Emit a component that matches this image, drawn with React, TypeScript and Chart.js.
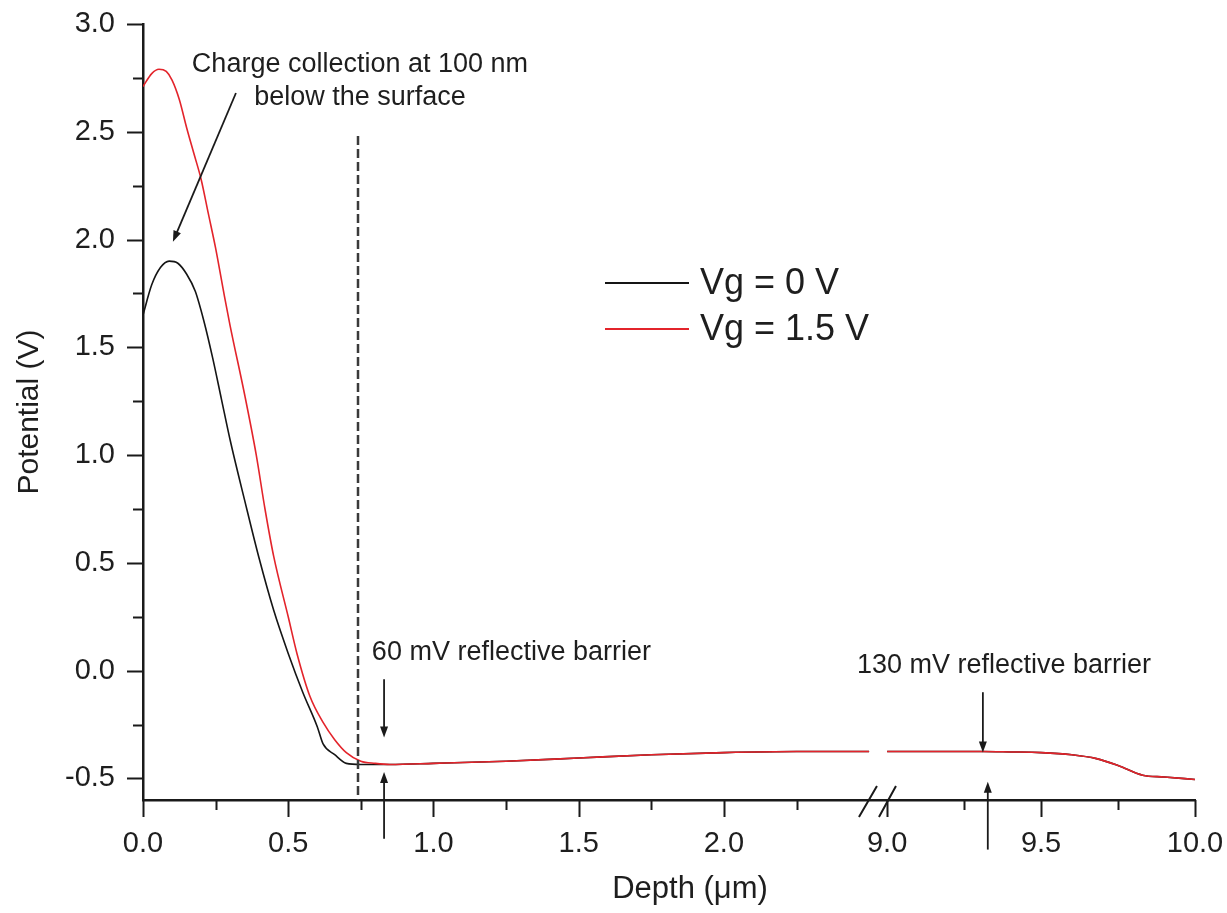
import React, { useEffect, useRef } from "react";
import { Chart, registerables } from "chart.js";

Chart.register(...registerables);

// ---------- data ----------
const seriesLabels = ["Vg = 0 V", "Vg = 1.5 V"];
const xTitle = "Depth (\u03bcm)";
const yTitle = "Potential (V)";

// Vg = 0 V, first axis segment (µm, V)
const depthVg0 = [0, 0.03, 0.06, 0.09, 0.12, 0.15, 0.18, 0.21, 0.24, 0.27, 0.3, 0.35, 0.4, 0.45, 0.5, 0.55, 0.6, 0.62, 0.66, 0.7, 0.75, 0.8, 0.85, 1.0, 1.25, 1.5, 1.75, 2.0, 2.25, 2.5];
const potentialVg0 = [1.65, 1.79, 1.87, 1.9, 1.89, 1.84, 1.76, 1.62, 1.45, 1.26, 1.07, 0.79, 0.52, 0.28, 0.08, -0.1, -0.26, -0.34, -0.39, -0.43, -0.435, -0.435, -0.435, -0.43, -0.42, -0.405, -0.39, -0.38, -0.375, -0.375];

// Vg = 1.5 V, first axis segment
const depthVg15 = [0, 0.03, 0.055, 0.08, 0.1, 0.125, 0.15, 0.175, 0.2, 0.225, 0.25, 0.28, 0.3, 0.35, 0.39, 0.42, 0.45, 0.5, 0.53, 0.575, 0.62, 0.66, 0.7, 0.75, 0.8, 0.85, 1.0, 1.25, 1.5, 1.75, 2.0, 2.25, 2.5];
const potentialVg15 = [2.71, 2.77, 2.79, 2.78, 2.74, 2.65, 2.52, 2.4, 2.28, 2.12, 1.96, 1.74, 1.6, 1.28, 1.0, 0.75, 0.53, 0.25, 0.08, -0.12, -0.24, -0.32, -0.38, -0.42, -0.43, -0.435, -0.43, -0.42, -0.405, -0.39, -0.38, -0.375, -0.375];

// second axis segment (both curves coincide)
const tailDepth = [9.0, 9.1, 9.2, 9.31, 9.4, 9.5, 9.6, 9.68, 9.75, 9.83, 9.9, 10.0];
const tailPotential = [-0.375, -0.375, -0.375, -0.375, -0.377, -0.38, -0.39, -0.408, -0.44, -0.485, -0.493, -0.505];

const xMajorTicks = [0, 0.5, 1.0, 1.5, 2.0, 9.0, 9.5, 10.0];
const xMinorTicks = [0.25, 0.75, 1.25, 1.75, 2.25, 9.25, 9.75];
const yMajorTicks = [-0.5, 0, 0.5, 1.0, 1.5, 2.0, 2.5, 3.0];
const yMinorTicks = [-0.25, 0.25, 0.75, 1.25, 1.75, 2.25, 2.75];

const dashedDepth = 0.74;

// ---------- broken axis mapping ----------
const SEG1_END = 2.527;
const SEG2_START = 8.967;
const SEG2_STRETCH = 1.06;
const AXIS_MAX = SEG1_END + (10.0 - SEG2_START) * SEG2_STRETCH;
const toAxis = (d: number) => (d <= SEG1_END ? d : SEG1_END + (d - SEG2_START) * SEG2_STRETCH);

function buildPoints(depth: number[], pot: number[]) {
  const pts: { x: number; y: number | null }[] = depth.map((d, i) => ({ x: toAxis(d), y: pot[i] }));
  pts.push({ x: SEG1_END, y: null });
  tailDepth.forEach((d, i) => pts.push({ x: toAxis(d), y: tailPotential[i] }));
  return pts;
}

const FONT = '"Liberation Sans", Arial, Helvetica, sans-serif';
const AXIS_COLOR = "#1a1a1a";
const TEXT_COLOR = "#1e1e1e";
const BLACK = "#151515";
const RED = "#e3242b";

const arrows = [
  { from: [0.32, 2.68], to: [0.103, 1.99] },
  { from: [0.83, -0.04], to: [0.83, -0.31] },
  { from: [0.83, -0.78], to: [0.83, -0.47] },
  { from: [9.311, -0.1], to: [9.311, -0.38] },
  { from: [9.327, -0.83], to: [9.327, -0.515] },
];

const notes = [
  { text: "Charge collection at 100 nm", at: [0.747, 2.814], align: "center" },
  { text: "below the surface", at: [0.747, 2.661], align: "center" },
  { text: "60 mV reflective barrier", at: [0.788, 0.083], align: "left" },
  { text: "130 mV reflective barrier", at: [2.458, 0.023], align: "left" },
];

const decorPlugin = {
  id: "decor",
  afterDraw(chart: any) {
    const ctx = chart.ctx as CanvasRenderingContext2D;
    const xs = chart.scales.x;
    const ys = chart.scales.y;
    const { left, bottom } = chart.chartArea;
    const px = (d: number) => xs.getPixelForValue(toAxis(d));
    const py = (v: number) => ys.getPixelForValue(v);
    ctx.save();

    // tick marks (outward)
    ctx.strokeStyle = AXIS_COLOR;
    ctx.lineWidth = 2;
    ctx.beginPath();
    xMajorTicks.forEach((v) => {
      const x = Math.round(px(v)) + 0.5;
      ctx.moveTo(x, bottom);
      ctx.lineTo(x, bottom + 17);
    });
    xMinorTicks.forEach((v) => {
      const x = Math.round(px(v)) + 0.5;
      ctx.moveTo(x, bottom);
      ctx.lineTo(x, bottom + 10);
    });
    yMajorTicks.forEach((v) => {
      const y = Math.round(py(v)) + 0.5;
      ctx.moveTo(left - 16, y);
      ctx.lineTo(left, y);
    });
    yMinorTicks.forEach((v) => {
      const y = Math.round(py(v)) + 0.5;
      ctx.moveTo(left - 10, y);
      ctx.lineTo(left, y);
    });
    ctx.stroke();

    // axis break marks
    const bx = xs.getPixelForValue(SEG1_END);
    ctx.beginPath();
    ctx.lineWidth = 2;
    ctx.moveTo(bx - 18, bottom + 17);
    ctx.lineTo(bx, bottom - 14);
    ctx.moveTo(bx + 2, bottom + 17);
    ctx.lineTo(bx + 19, bottom - 14);
    ctx.stroke();

    // dashed vertical line
    ctx.beginPath();
    ctx.strokeStyle = "#3a3a3a";
    ctx.lineWidth = 2.5;
    ctx.setLineDash([9, 4]);
    const dx = Math.round(px(dashedDepth));
    ctx.moveTo(dx, py(2.48));
    ctx.lineTo(dx, bottom);
    ctx.stroke();
    ctx.setLineDash([]);

    // arrows
    ctx.strokeStyle = AXIS_COLOR;
    ctx.fillStyle = AXIS_COLOR;
    arrows.forEach((a) => {
      const x1 = px(a.from[0]);
      const y1 = py(a.from[1]);
      const x2 = px(a.to[0]);
      const y2 = py(a.to[1]);
      const ang = Math.atan2(y2 - y1, x2 - x1);
      const hl = 11;
      const hw = 4;
      ctx.beginPath();
      ctx.lineWidth = 1.8;
      ctx.moveTo(x1, y1);
      ctx.lineTo(x2 - Math.cos(ang) * hl * 0.8, y2 - Math.sin(ang) * hl * 0.8);
      ctx.stroke();
      ctx.beginPath();
      ctx.moveTo(x2, y2);
      ctx.lineTo(x2 - Math.cos(ang) * hl - Math.sin(ang) * hw, y2 - Math.sin(ang) * hl + Math.cos(ang) * hw);
      ctx.lineTo(x2 - Math.cos(ang) * hl + Math.sin(ang) * hw, y2 - Math.sin(ang) * hl - Math.cos(ang) * hw);
      ctx.closePath();
      ctx.fill();
    });

    // annotation text
    ctx.fillStyle = TEXT_COLOR;
    ctx.font = `27px ${FONT}`;
    ctx.textBaseline = "middle";
    notes.forEach((n) => {
      ctx.textAlign = n.align as CanvasTextAlign;
      ctx.fillText(n.text, px(n.at[0]), py(n.at[1]));
    });

    // x axis title
    ctx.font = `31px ${FONT}`;
    ctx.textAlign = "center";
    ctx.fillText(xTitle, 690, 889);

    // legend
    const legendItems = [
      { label: seriesLabels[0], color: BLACK, y: 283 },
      { label: seriesLabels[1], color: RED, y: 329 },
    ];
    ctx.font = `36px ${FONT}`;
    ctx.textAlign = "left";
    legendItems.forEach((it) => {
      ctx.beginPath();
      ctx.strokeStyle = it.color;
      ctx.lineWidth = 1.8;
      ctx.moveTo(605, it.y);
      ctx.lineTo(689, it.y);
      ctx.stroke();
      ctx.fillStyle = TEXT_COLOR;
      ctx.fillText(it.label, 700, it.y + 1);
    });

    ctx.restore();
  },
};

export default function App() {
  const canvasRef = useRef<HTMLCanvasElement | null>(null);

  useEffect(() => {
    const canvas = canvasRef.current;
    if (!canvas) return;
    const chart = new Chart(canvas, {
      type: "line",
      data: {
        datasets: [
          {
            label: seriesLabels[0],
            data: buildPoints(depthVg0, potentialVg0),
            borderColor: BLACK,
            borderWidth: 1.6,
            pointRadius: 0,
            cubicInterpolationMode: "monotone",
            spanGaps: false,
            order: 2,
          },
          {
            label: seriesLabels[1],
            data: buildPoints(depthVg15, potentialVg15),
            borderColor: RED,
            borderWidth: 1.6,
            pointRadius: 0,
            cubicInterpolationMode: "monotone",
            spanGaps: false,
            order: 1,
          },
        ],
      } as any,
      options: {
        animation: false,
        responsive: true,
        maintainAspectRatio: false,
        parsing: false as any,
        layout: { padding: { left: 0, top: 24, right: 32, bottom: 0 } },
        plugins: { legend: { display: false }, tooltip: { enabled: false } },
        scales: {
          x: {
            type: "linear",
            min: 0,
            max: AXIS_MAX,
            grid: { display: false, drawTicks: false },
            border: { display: true, color: AXIS_COLOR, width: 2.5 },
            afterBuildTicks: (scale: any) => {
              scale.ticks = xMajorTicks.map((v) => ({ value: toAxis(v) }));
            },
            afterFit: (scale: any) => {
              scale.height = 113;
              scale.paddingLeft = 0;
              scale.paddingRight = 0;
            },
            ticks: {
              autoSkip: false,
              maxRotation: 0,
              padding: 27,
              color: TEXT_COLOR,
              font: { family: FONT, size: 29 },
              callback: (_v: any, i: number) => xMajorTicks[i].toFixed(1),
            },
            title: { display: false },
          },
          y: {
            type: "linear",
            min: -0.6,
            max: 3.0,
            grid: { display: false, drawTicks: false },
            border: { display: true, color: AXIS_COLOR, width: 2.5 },
            afterBuildTicks: (scale: any) => {
              scale.ticks = yMajorTicks.map((v) => ({ value: v }));
            },
            afterFit: (scale: any) => {
              scale.width = 143;
              scale.paddingTop = 0;
              scale.paddingBottom = 0;
            },
            ticks: {
              padding: 28,
              color: TEXT_COLOR,
              font: { family: FONT, size: 29 },
              callback: (v: any) => Number(v).toFixed(1),
            },
            title: {
              display: true,
              text: yTitle,
              color: TEXT_COLOR,
              font: { family: FONT, size: 30 },
              padding: { top: 12, bottom: 0 },
            },
          },
        },
      } as any,
      plugins: [decorPlugin],
    });
    return () => chart.destroy();
  }, []);

  return (
    <div style={{ position: "fixed", left: 0, top: 0, width: 1227, height: 913, background: "#fff" }}>
      <canvas ref={canvasRef} />
    </div>
  );
}
